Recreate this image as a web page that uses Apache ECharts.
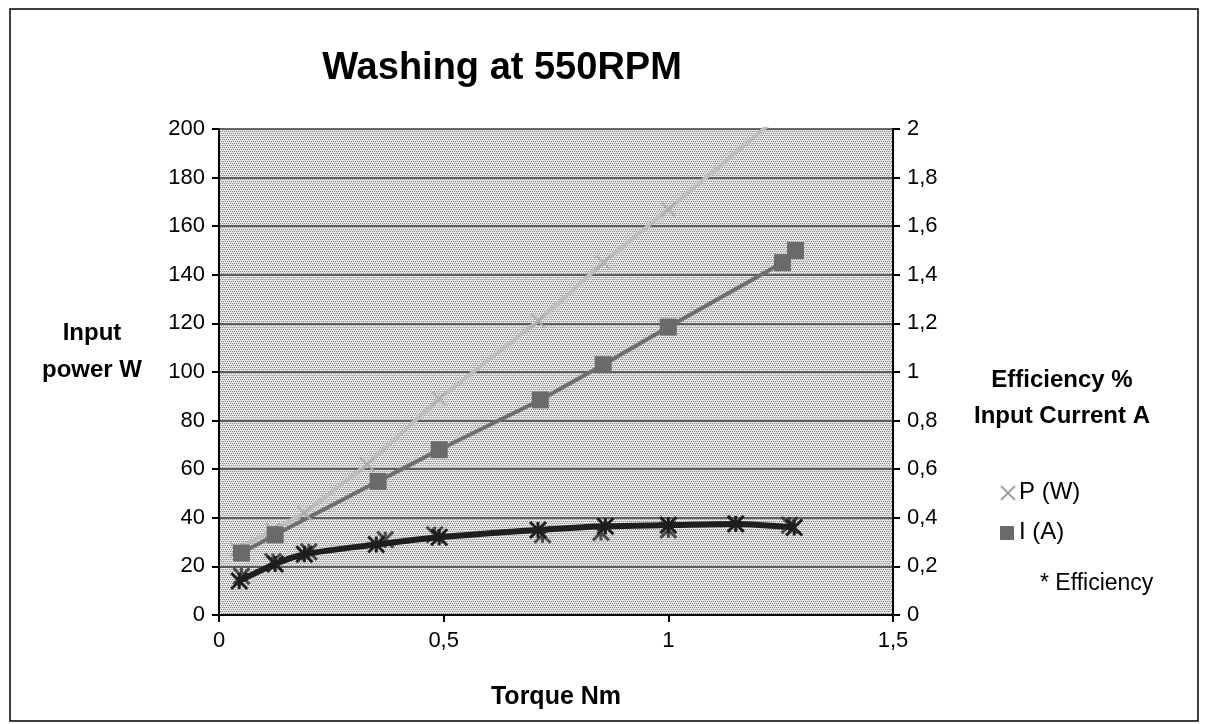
<!DOCTYPE html>
<html><head><meta charset="utf-8">
<script src="https://cdn.jsdelivr.net/npm/echarts@6/dist/echarts.min.js"></script>
<style>html,body{margin:0;padding:0;background:#fff}#c{width:1208px;height:724px}</style>
</head><body><div id="c"></div>
<script>
// ---- data ----
const powerData = [[0.04,27],[0.12,35],[0.19,42],[0.33,62],[0.49,89],[0.71,121],[0.855,145],[1.0,167],[1.27,209]];
const currentData = [[0.05,0.255],[0.125,0.33],[0.354,0.55],[0.49,0.68],[0.715,0.885],[0.855,1.03],[1.0,1.185],[1.254,1.45],[1.283,1.5]];
const efficiencyLine = [[0.045,14],[0.125,21],[0.19,25],[0.35,29],[0.49,32],[0.71,35],[0.86,36.5],[1.0,37],[1.15,37.5],[1.28,36]];
const efficiencyExtra = [[0.05,16],[0.12,22],[0.2,26],[0.37,31],[0.48,33],[0.72,33],[0.85,34],[1.0,35],[1.27,37]];
const xTicks = [0, 0.5, 1, 1.5];
const leftTicks = [0,20,40,60,80,100,120,140,160,180,200];
const rightTicks = [0,0.2,0.4,0.6,0.8,1,1.2,1.4,1.6,1.8,2];

const fmt = v => String(+(+v).toFixed(2)).replace('.', ',');

const G = { left: 219, top: 129, width: 674, height: 486 };

// dotted background pattern rendered into a canvas
const pc = document.createElement('canvas');
pc.width = 4; pc.height = 4;
const pctx = pc.getContext('2d');
pctx.fillStyle = '#dcdcdc'; pctx.fillRect(0,0,4,4);
pctx.fillStyle = '#8c8c8c';
pctx.fillRect(0,0,1,1); pctx.fillRect(2,0,1,1); pctx.fillRect(1,2,1,1); pctx.fillRect(3,2,1,1);
pctx.fillStyle = '#ffffff';
pctx.fillRect(1,1,1,1); pctx.fillRect(3,3,1,1);
const bg = document.createElement('canvas');
bg.width = G.width; bg.height = G.height;
const bctx = bg.getContext('2d');
bctx.fillStyle = bctx.createPattern(pc, 'repeat');
bctx.fillRect(0, 0, G.width, G.height);

const xSym = 'path://M0,0L10,10M10,0L0,10';
const starSym = 'path://M0,0L10,10M10,0L0,10M5,0L5,10';
const FONT = 'Liberation Sans, Arial, sans-serif';

const chart = echarts.init(document.getElementById('c'), null, {renderer:'canvas'});
chart.setOption({
  animation: false,
  backgroundColor: '#fff',
  title: { text: 'Washing at 550RPM', left: 497, top: 45, textAlign: 'center',
    textStyle: { fontFamily: FONT, fontSize: 38, fontWeight: 'bold', color: '#000' } },
  grid: { left: G.left, top: G.top, width: G.width, height: G.height, show: false },
  legend: { show: false },
  xAxis: { type: 'value', min: 0, max: 1.5, interval: 0.5,
    name: 'Torque Nm', nameLocation: 'middle', nameGap: 70,
    nameTextStyle: { fontFamily: FONT, fontSize: 25, fontWeight: 'bold', color: '#000' },
    axisLine: { show: true, lineStyle: { color: '#000', width: 2 } },
    axisTick: { show: true, length: 7, lineStyle: { color: '#000', width: 2 } },
    axisLabel: { fontFamily: FONT, fontSize: 22, color: '#000', margin: 15, formatter: v => fmt(v) },
    splitLine: { show: false } },
  yAxis: [
    { type: 'value', min: 0, max: 200, interval: 20, position: 'left',
      axisLine: { show: true, lineStyle: { color: '#000', width: 2 } },
      axisTick: { show: true, length: 7, lineStyle: { color: '#000', width: 2 } },
      axisLabel: { fontFamily: FONT, fontSize: 22, color: '#000', margin: 14 },
      splitLine: { show: true, lineStyle: { color: '#3a3a3a', width: 1.5 } } },
    { type: 'value', min: 0, max: 2, interval: 0.2, position: 'right',
      axisLine: { show: true, lineStyle: { color: '#000', width: 2 } },
      axisTick: { show: true, length: 7, lineStyle: { color: '#000', width: 2 } },
      axisLabel: { fontFamily: FONT, fontSize: 22, color: '#000', margin: 14, formatter: v => fmt(v) },
      splitLine: { show: false } }
  ],
  series: [
    { name: 'P (W)', type: 'line', yAxisIndex: 0, data: powerData, clip: true,
      symbol: xSym, symbolSize: 14,
      lineStyle: { color: '#bdbdbd', width: 4 },
      itemStyle: { color: 'none', borderColor: '#adadad', borderWidth: 2 } },
    { name: 'I (A)', type: 'line', yAxisIndex: 1, data: currentData,
      symbol: 'rect', symbolSize: 17,
      lineStyle: { color: '#6e6e6e', width: 4 },
      itemStyle: { color: '#6a6a6a' } },
    { name: 'Efficiency', type: 'line', yAxisIndex: 0, data: efficiencyLine, smooth: 0.3,
      symbol: starSym, symbolSize: 16,
      lineStyle: { color: '#1e1e1e', width: 6 },
      itemStyle: { color: 'none', borderColor: '#1e1e1e', borderWidth: 3 } },
    { name: 'Efficiency pts', type: 'scatter', yAxisIndex: 0, data: efficiencyExtra,
      symbol: starSym, symbolSize: 16,
      itemStyle: { color: 'none', borderColor: '#2a2a2a', borderWidth: 3 } }
  ],
  graphic: [
    { type: 'image', z: -100, silent: true,
      style: { image: bg, x: G.left, y: G.top, width: G.width, height: G.height } },
    { type: 'rect', shape: { x: 10, y: 9, width: 1188, height: 712 }, silent: true,
      style: { fill: 'none', stroke: '#000', lineWidth: 1.5 } },
    { type: 'text', x: 92, y: 315, style: { text: 'Input\npower W', fontFamily: FONT, fontSize: 24,
      fontWeight: 'bold', fill: '#000', align: 'center', lineHeight: 37 } },
    { type: 'text', x: 1062, y: 362, style: { text: 'Efficiency %\nInput Current A', fontFamily: FONT,
      fontSize: 24, fontWeight: 'bold', fill: '#000', align: 'center', lineHeight: 36 } },
    { type: 'text', x: 1019, y: 480, style: { text: 'P (W)', fontFamily: FONT, fontSize: 24, fill: '#000' } },
    { type: 'text', x: 1019, y: 520, style: { text: 'I (A)', fontFamily: FONT, fontSize: 24, fill: '#000' } },
    { type: 'text', x: 1040, y: 572, style: { text: '* Efficiency', fontFamily: FONT, fontSize: 23, fill: '#000' } },
    { type: 'line', shape: { x1: 1001, y1: 486, x2: 1015, y2: 500 }, style: { stroke: '#a0a0a0', lineWidth: 2 } },
    { type: 'line', shape: { x1: 1015, y1: 486, x2: 1001, y2: 500 }, style: { stroke: '#a0a0a0', lineWidth: 2 } },
    { type: 'rect', shape: { x: 1000, y: 526, width: 14, height: 14 }, style: { fill: '#6a6a6a' } }
  ]
});
</script></body></html>
